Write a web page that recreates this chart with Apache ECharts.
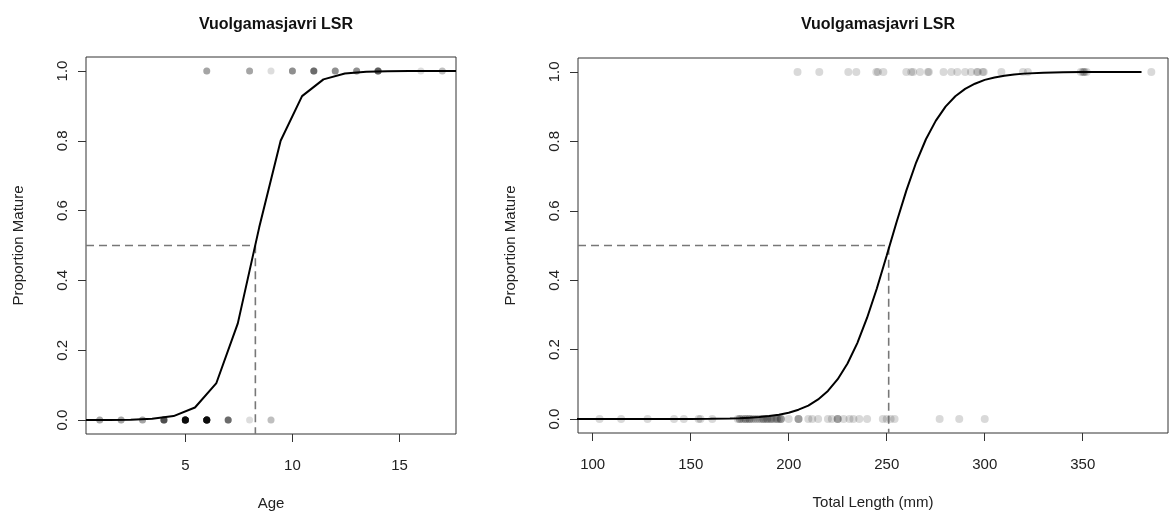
<!DOCTYPE html>
<html>
<head>
<meta charset="utf-8">
<script src="https://cdn.jsdelivr.net/npm/echarts@6/dist/echarts.min.js"></script>
<style>html,body{margin:0;padding:0;background:#fff}#c{width:1169px;height:520px}</style>
</head>
<body>
<div id="c"></div>
<script>
// ---- data ----
const chartTitle = 'Vuolgamasjavri LSR';
const propTicks = [0, 0.2, 0.4, 0.6, 0.8, 1.0];
const ageTicks = [5, 10, 15];
const lenTicks = [100, 150, 200, 250, 300, 350];

// Age panel: observed fish (age, number of fish)
const ageMatureAges = [6, 8, 9, 10, 11, 12, 13, 14, 16, 17];
const ageMatureCounts = [3, 3, 1, 4, 6, 4, 4, 7, 1, 2];
const ageImmatureAges = [1, 2, 3, 4, 5, 6, 7, 8, 9];
const ageImmatureCounts = [3, 3, 3, 8, 20, 20, 6, 1, 2];

// Age panel: fitted curve
const ageCurveX = [0.36, 1.45, 2.45, 3.45, 4.45, 5.45, 6.45, 7.45, 8.45, 9.45, 10.45, 11.45, 12.45, 13.45, 14.45, 15.45, 16.45, 17.64];
const ageCurveP = [0.0001, 0.0003, 0.0011, 0.0036, 0.0113, 0.036, 0.106, 0.277, 0.552, 0.80, 0.928, 0.976, 0.9926, 0.9977, 0.9993, 0.9998, 0.9999, 1.0];
const ageLD50 = 8.27;

// Length panel: observed fish total lengths (mm)
const lenMature = [204.5, 215.6, 230.4, 234.5, 244.7, 245.5, 248.3, 260, 262.5, 263.5, 267, 271, 271.5, 279, 283, 286, 290, 293, 296, 296.5, 299, 299.5, 308.5, 319.5, 322, 349, 350, 350.5, 351, 352, 385];
const lenImmature = [103.5, 114.5, 128, 141.5, 146.5, 154, 155, 161,
  174, 175, 175, 176, 177, 178, 178, 179, 180, 180, 181, 182, 183, 184, 185, 186, 187, 187, 188, 189, 189, 190, 191, 191, 192, 193, 194, 194, 195, 196, 196, 196,
  200, 205, 205, 205, 210, 212, 215, 220, 222, 225, 225, 225, 228, 231, 233, 236, 240, 248, 250, 252, 254, 277, 287, 300];

// Length panel: fitted curve
const lenCurveX = [90, 100, 110, 120, 130, 140, 150, 160, 170, 175, 180, 185, 190, 195, 200, 205, 210, 215, 220, 225, 230, 235, 240, 245, 250, 255, 260, 265, 270, 275, 280, 285, 290, 295, 300, 305, 310, 315, 320, 330, 340, 350, 360, 370, 380];
const lenCurveP = [0, 0, 0.00002, 0.00004, 0.0001, 0.0002, 0.0004, 0.0009, 0.0019, 0.0028, 0.0041, 0.006, 0.0087, 0.0127, 0.0185, 0.0271, 0.039, 0.0568, 0.081, 0.115, 0.16, 0.219, 0.292, 0.377, 0.471, 0.567, 0.658, 0.739, 0.806, 0.859, 0.90, 0.930, 0.951, 0.966, 0.977, 0.984, 0.989, 0.9925, 0.995, 0.9976, 0.9989, 0.9995, 0.9998, 0.9999, 1.0];
const lenLD50 = 251;

// axis limits
const ageMin = 0.36, ageMax = 17.64;
const lenMin = 92.5, lenMax = 393.5;
const propMin = -0.04, propMax = 1.04;

// ---- build ----
function expand(xs, counts, y) {
  const out = [];
  xs.forEach((x, i) => { for (let k = 0; k < counts[i]; k++) out.push([x, y]); });
  return out;
}
const ageDots = expand(ageImmatureAges, ageImmatureCounts, 0).concat(expand(ageMatureAges, ageMatureCounts, 1));
const lenDots = lenImmature.map(v => [v, 0]).concat(lenMature.map(v => [v, 1]));

const FONT = 'Liberation Sans, Arial, sans-serif';
const txt = '#222';

function xAx(idx, min, max, ticks, name) {
  return {
    type: 'value', gridIndex: idx, min: min, max: max, position: 'bottom',
    splitLine: {show: false}, axisLine: {show: false, onZero: false},
    axisTick: {show: true, inside: false, length: 8, customValues: ticks, lineStyle: {color: '#333', width: 1}},
    axisLabel: {customValues: ticks, margin: 24, color: txt, fontSize: 15, fontFamily: FONT},
    name: name, nameLocation: 'middle', nameGap: 62,
    nameTextStyle: {color: txt, fontSize: 15, fontFamily: FONT}
  };
}
function yAx(idx) {
  return {
    type: 'value', gridIndex: idx, min: propMin, max: propMax, position: 'left',
    splitLine: {show: false}, axisLine: {show: false, onZero: false},
    axisTick: {show: true, inside: false, length: 8, customValues: propTicks, lineStyle: {color: '#333', width: 1}},
    axisLabel: {customValues: propTicks, rotate: 90, margin: 16, color: txt, fontSize: 15, fontFamily: FONT,
      formatter: v => v.toFixed(1)},
    name: 'Proportion Mature', nameLocation: 'middle', nameGap: 60, nameRotate: 90,
    nameTextStyle: {color: txt, fontSize: 15, fontFamily: FONT}
  };
}

const chart = echarts.init(document.getElementById('c'), null, {renderer: 'canvas'});
chart.setOption({
  animation: false,
  backgroundColor: '#fff',
  title: [
    {text: chartTitle, left: 271, top: 12, textAlign: 'center',
      textStyle: {fontSize: 16, fontWeight: 'bold', color: '#111', fontFamily: FONT}},
    {text: chartTitle, left: 873, top: 12, textAlign: 'center',
      textStyle: {fontSize: 16, fontWeight: 'bold', color: '#111', fontFamily: FONT}}
  ],
  grid: [
    {left: 86, top: 57, width: 370, height: 377, show: true, borderColor: '#333', borderWidth: 1, backgroundColor: 'transparent'},
    {left: 578, top: 58, width: 590, height: 375, show: true, borderColor: '#333', borderWidth: 1, backgroundColor: 'transparent'}
  ],
  xAxis: [xAx(0, ageMin, ageMax, ageTicks, 'Age'), xAx(1, lenMin, lenMax, lenTicks, 'Total Length (mm)')],
  yAxis: [yAx(0), yAx(1)],
  series: [
    {type: 'scatter', xAxisIndex: 0, yAxisIndex: 0, data: ageDots, symbolSize: 7,
      itemStyle: {color: 'rgba(0,0,0,0.17)'}, z: 2, silent: true},
    {type: 'scatter', xAxisIndex: 1, yAxisIndex: 1, data: lenDots, symbolSize: 8,
      itemStyle: {color: 'rgba(0,0,0,0.19)'}, z: 2, silent: true},
    {type: 'line', xAxisIndex: 0, yAxisIndex: 0, data: [[ageMin, 0.5], [ageLD50, 0.5], [ageLD50, propMin]],
      symbol: 'none', lineStyle: {color: '#777', width: 1.6, type: [8, 5]}, z: 3, silent: true},
    {type: 'line', xAxisIndex: 1, yAxisIndex: 1, data: [[lenMin, 0.5], [lenLD50, 0.5], [lenLD50, propMin]],
      symbol: 'none', lineStyle: {color: '#777', width: 1.6, type: [8, 5]}, z: 3, silent: true},
    {type: 'line', xAxisIndex: 0, yAxisIndex: 0, data: ageCurveX.map((x, i) => [x, ageCurveP[i]]),
      symbol: 'none', lineStyle: {color: '#000', width: 2}, z: 4, silent: true},
    {type: 'line', xAxisIndex: 1, yAxisIndex: 1, data: lenCurveX.map((x, i) => [x, lenCurveP[i]]),
      symbol: 'none', lineStyle: {color: '#000', width: 2}, z: 4, silent: true}
  ]
});
</script>
</body>
</html>
